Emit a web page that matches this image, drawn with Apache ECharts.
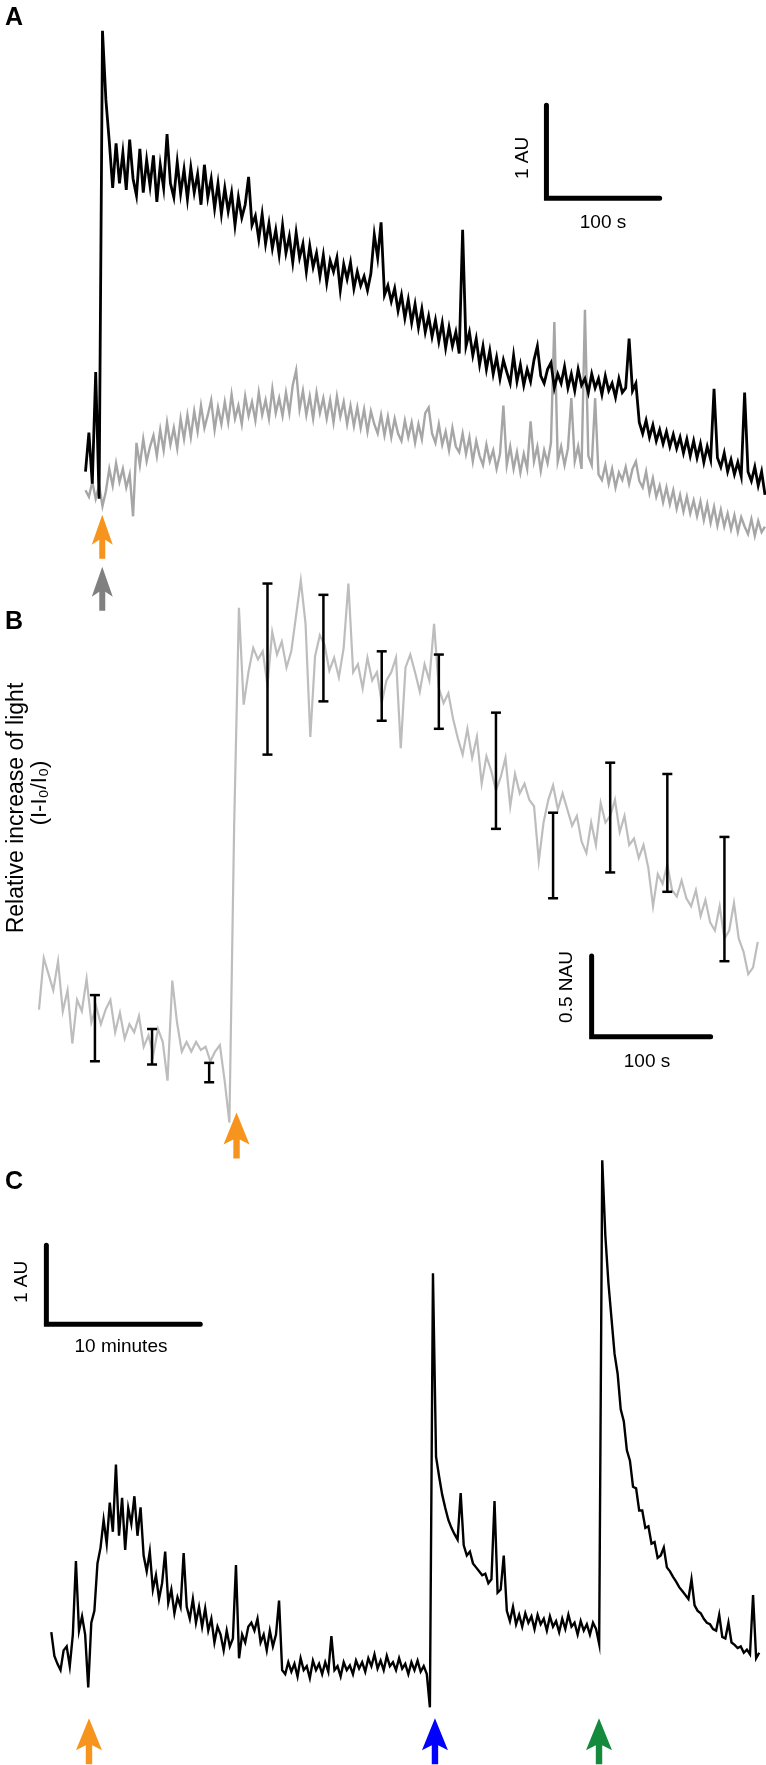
<!DOCTYPE html>
<html>
<head>
<meta charset="utf-8">
<script src="https://cdn.jsdelivr.net/npm/echarts@6/dist/echarts.min.js"></script>
<style>
  html, body { margin: 0; padding: 0; background: #fff; }
  #chart { width: 766px; height: 1765px; }
</style>
</head>
<body>
<div id="chart"></div>
<script>
// ---- panel A: two traces, one sample every 3 s, values in AU ----
const stepA = 3;
const blackA = [
  0.95, 1.37, 0.82, 2.02, 0.66, 5.69, 4.95, 4.5, 4.0, 4.48,
  4.05, 4.38, 3.98, 4.52, 4.1, 3.92, 4.42, 3.95, 4.3, 4.02,
  4.35, 3.85, 4.25, 4.0, 4.58, 4.05, 3.9, 4.28, 3.94, 4.2,
  3.88, 4.22, 3.95, 4.15, 3.82, 4.25, 3.9, 4.1, 3.78, 4.05,
  3.72, 4.0, 3.75, 3.95, 3.6, 3.9, 3.68, 3.82, 4.12, 3.6,
  3.7, 3.45, 3.72, 3.4, 3.62, 3.35, 3.55, 3.28, 3.6, 3.3,
  3.48, 3.2, 3.52, 3.25, 3.4, 3.1, 3.38, 3.15, 3.3, 3.05,
  3.28, 2.98, 3.22, 3.1, 3.25, 2.9, 3.18, 3.02, 3.2, 2.92,
  3.1, 2.95, 3.05, 2.9, 3.08, 3.5, 3.25, 3.63, 2.85, 2.95,
  2.78, 2.92, 2.68, 2.85, 2.6, 2.8, 2.55, 2.75, 2.5, 2.7,
  2.45, 2.62, 2.4, 2.58, 2.35, 2.55, 2.28, 2.5, 2.3, 2.45,
  2.22, 3.55, 2.3, 2.45, 2.2, 2.38, 2.1, 2.3, 2.05, 2.25,
  2.0, 2.18, 1.95, 2.15, 2.02, 1.9, 2.2, 1.92, 2.1, 1.88,
  2.05, 1.92, 2.15, 2.3, 1.98, 1.9, 2.05, 2.12, 1.85, 2.0,
  1.9, 2.08, 1.85, 2.0, 1.82, 2.05, 1.88, 1.95, 1.8, 2.0,
  1.85, 1.95, 1.78, 1.98, 1.82, 1.9, 1.75, 1.95, 1.8, 1.85,
  2.38, 1.82, 1.9, 1.48, 1.36, 1.5, 1.32, 1.45, 1.28, 1.4,
  1.25, 1.38, 1.22, 1.35, 1.2, 1.32, 1.15, 1.3, 1.12, 1.28,
  1.1, 1.25, 1.05, 1.22, 1.08, 1.84, 1.1, 1.0, 1.15, 0.95,
  1.08, 0.92, 1.05, 0.9, 1.8, 0.95, 0.85, 1.0, 0.8, 0.95,
  0.7
];
const greyA = [
  0.75, 0.68, 0.84, 0.66, 0.8, 0.58, 0.74, 0.98, 0.8, 1.04,
  0.84, 0.98, 0.78, 0.92, 0.47, 1.26, 1.02, 1.3, 1.06, 1.22,
  1.34, 1.12, 1.4, 1.18, 1.48, 1.24, 1.42, 1.2, 1.52, 1.3,
  1.56, 1.32, 1.6, 1.38, 1.66, 1.42, 1.56, 1.72, 1.4, 1.64,
  1.46, 1.7, 1.48, 1.78, 1.52, 1.66, 1.46, 1.76, 1.55, 1.7,
  1.5, 1.8, 1.56, 1.72, 1.52, 1.84, 1.58, 1.74, 1.55, 1.8,
  1.58, 1.88, 2.04, 1.62, 1.82, 1.56, 1.76, 1.52, 1.8, 1.58,
  1.74, 1.52, 1.72, 1.48, 1.76, 1.54, 1.7, 1.46, 1.66, 1.44,
  1.64, 1.42, 1.62, 1.38, 1.6, 1.46, 1.36, 1.56, 1.34, 1.54,
  1.32, 1.52, 1.36, 1.28, 1.5, 1.32, 1.48, 1.26, 1.46, 1.3,
  1.58, 1.64, 1.36, 1.26, 1.46, 1.24, 1.38, 1.18, 1.42, 1.22,
  1.16, 1.36, 1.14, 1.32, 1.06, 1.28, 1.12, 1.02, 1.24, 1.06,
  1.18, 0.98, 1.14, 1.66, 1.02, 1.22, 0.98, 1.16, 0.94, 1.14,
  0.98, 1.49, 1.06, 1.22, 0.96, 1.18, 1.04, 1.26, 2.56, 1.06,
  1.22, 1.02, 1.2, 1.74, 1.06, 1.22, 0.98, 2.69, 1.12, 1.02,
  1.74, 0.92, 0.86, 1.02, 0.82, 0.98, 0.78, 0.94, 0.86, 1.0,
  0.82, 0.98, 1.06, 0.85, 0.78, 0.95, 0.72, 0.88, 0.68, 0.8,
  0.62, 0.78, 0.6, 0.75, 0.55, 0.7, 0.52, 0.68, 0.5, 0.64,
  0.47, 0.63, 0.43, 0.6, 0.4, 0.57, 0.37, 0.54, 0.36, 0.5,
  0.33, 0.48, 0.3, 0.46, 0.36, 0.28, 0.44, 0.26, 0.42, 0.3,
  0.36
];
const stimA = [14.8];

// ---- panel B: relative increase of light, one sample every 4 s ----
const stepB = 4;
const traceB = [
  0.56, 0.88, 0.78, 0.68, 0.86, 0.55, 0.68, 0.35, 0.62, 0.55,
  0.75, 0.48, 0.58, 0.47, 0.56, 0.62, 0.42, 0.54, 0.38, 0.47,
  0.42, 0.52, 0.33, 0.4, 0.28, 0.44, 0.36, 0.12, 0.74, 0.48,
  0.3, 0.36, 0.3, 0.36, 0.31, 0.33, 0.24, 0.3, 0.34, 0.12,
  -0.14, 1.7, 3.05, 2.45, 2.65, 2.8, 2.73, 2.78, 2.57, 2.9,
  2.76, 2.84, 2.68, 2.78, 3.0, 3.22, 2.95, 2.25, 2.75, 2.88,
  2.82, 2.66, 2.74, 2.62, 2.8, 3.2, 2.65, 2.7, 2.55, 2.74,
  2.6, 2.65, 2.46, 2.6, 2.65, 2.74, 2.18, 2.68, 2.76, 2.65,
  2.53, 2.7, 2.6, 2.95, 2.55, 2.46, 2.52, 2.36, 2.24, 2.14,
  2.3, 2.12, 2.25, 1.96, 2.13, 2.04, 1.92, 2.0, 2.12, 1.82,
  2.02, 1.9, 1.96, 1.86, 1.82, 1.48, 1.72, 1.86, 1.95, 1.8,
  1.9, 1.8, 1.7, 1.76, 1.6, 1.53, 1.72, 1.58, 1.84, 1.72,
  1.76, 1.86, 1.66, 1.76, 1.58, 1.62, 1.5, 1.58, 1.44, 1.2,
  1.4, 1.34, 1.46, 1.3, 1.26, 1.36, 1.25, 1.2, 1.3, 1.14,
  1.24, 1.1, 1.05, 1.2, 1.0, 1.05, 1.22, 1.0, 0.92, 0.78,
  0.82, 0.98
];
const errTimeB = [47, 95, 143, 192, 239, 288, 336, 384, 432, 480, 528, 576];
const errLowB = [0.24, 0.22, 0.11, 2.14, 2.47, 2.35, 2.3, 1.68, 1.25, 1.41, 1.29, 0.86];
const errHighB = [0.65, 0.44, 0.23, 3.2, 3.13, 2.78, 2.76, 2.4, 1.78, 2.09, 2.02, 1.63];
const stimB = [166];

// ---- panel C: long recording, one sample every 0.2 min ----
const stepC = 0.2;
const traceC = [
  1.08, 0.78, 0.68, 0.6, 0.85, 0.9, 0.65, 1.05, 1.98, 1.1,
  1.28, 1.05, 0.38, 1.2, 1.35, 1.95, 2.15, 2.5, 2.2, 2.72,
  2.35, 3.2, 2.3, 2.78, 2.12, 2.65, 2.45, 2.8, 2.3, 2.66,
  2.05, 1.85, 2.1, 1.62, 1.8, 1.5, 1.7, 2.1, 1.45, 1.62,
  1.32, 1.52, 1.4, 2.08, 1.4, 1.25, 1.5, 1.2, 1.4, 1.15,
  1.38, 1.1, 1.25, 0.95, 1.15, 1.05, 0.85, 1.1, 0.9, 1.0,
  1.93, 0.75, 1.05, 0.95, 1.15, 1.2, 1.1, 1.25, 0.95, 1.05,
  0.85, 1.1, 0.9, 1.05, 1.48, 0.6, 0.55, 0.7, 0.58, 0.68,
  0.52, 0.75, 0.6, 0.65, 0.5, 0.72, 0.6, 0.68, 0.55, 0.7,
  0.58, 1.03, 0.6, 0.65, 0.52, 0.7, 0.6, 0.66, 0.55, 0.72,
  0.62, 0.7, 0.58, 0.75, 0.65, 0.8, 0.62, 0.72, 0.6, 0.78,
  0.65, 0.7, 0.6, 0.75, 0.62, 0.68, 0.55, 0.7, 0.6, 0.72,
  0.58, 0.65, 0.55, 0.13, 5.62, 3.3, 3.05, 2.82, 2.65, 2.5,
  2.4, 2.32, 2.25, 2.84, 2.18, 2.05, 2.1, 1.95, 1.9, 1.85,
  1.8, 1.82, 1.7, 1.75, 2.74, 1.58, 1.62, 2.05, 1.35, 1.22,
  1.4, 1.18, 1.3, 1.15, 1.32, 1.2, 1.28, 1.12, 1.3, 1.18,
  1.25, 1.1, 1.28, 1.15, 1.22, 1.08, 1.25, 1.12, 1.3, 1.15,
  1.2, 1.05, 1.22, 1.1, 1.18, 1.05, 1.2, 1.12, 0.93, 7.05,
  6.1, 5.5, 5.05, 4.6, 4.35, 3.9, 3.75, 3.38, 3.25, 2.92,
  2.9, 2.62, 2.62, 2.4, 2.42, 2.2, 2.22, 2.02, 2.05, 2.15,
  1.9, 1.85, 1.78, 1.72, 1.65, 1.6, 1.55, 1.5, 1.75, 1.42,
  1.35, 1.32, 1.25, 1.2, 1.18, 1.12, 1.1, 1.3, 1.02, 1.0,
  1.2, 0.95, 0.92, 0.88, 0.9, 0.82, 0.86, 0.8, 1.55, 0.75,
  0.82
];
const stimC = [2.45, 24.93, 35.59];

// ---------------------------------------------------------------
const chart = echarts.init(document.getElementById('chart'));

const toXY = (vals, step) => vals.map((v, i) => [+(i * step).toFixed(3), v]);

const arrowSmall = 'path://M10.5,0 L21,30 L13.5,25 L13.5,44 L7.5,44 L7.5,25 L0,30 Z';
const arrowBig = 'path://M13,0 L26,32 L16.2,27 L16.2,46 L9.8,46 L9.8,27 L0,32 Z';
const FONT = '"Liberation Sans", Arial, sans-serif';

function traceSeries(idx, data, color, width, z) {
  return {
    type: 'line', xAxisIndex: idx, yAxisIndex: idx, data: data,
    symbol: 'none', silent: true, z: z,
    lineStyle: { color: color, width: width, join: 'miter' }
  };
}

function scaleBar(idx, x0, y0, dx, dy) {
  return {
    type: 'line', xAxisIndex: idx, yAxisIndex: idx, symbol: 'none', silent: true, z: 5,
    data: [[x0, y0 + dy], [x0, y0], [x0 + dx, y0]],
    lineStyle: { color: '#000', width: 5, cap: 'round', join: 'miter' }
  };
}

function arrowSeries(idx, points, path, size) {
  return {
    type: 'scatter', xAxisIndex: idx, yAxisIndex: idx, silent: true, clip: false, z: 6,
    symbol: path, symbolSize: size,
    data: points.map(p => ({ value: [p[0], p[1]], itemStyle: { color: p[2], opacity: 1 } }))
  };
}

function label(text, x, y, size, rot, bold) {
  return {
    type: 'text', x: x, y: y, rotation: rot || 0,
    style: {
      text: text, fill: '#000',
      font: (bold ? 'bold ' : '') + size + 'px ' + FONT,
      align: 'center', verticalAlign: 'middle',
      textAlign: 'center', textVerticalAlign: 'middle'
    }
  };
}

const option = {
  animation: false,
  backgroundColor: '#fff',
  grid: [
    { left: 85.5, top: 20.6, width: 679.5, height: 604.5 },
    { left: 39, top: 567.4, width: 725.9, height: 613.3 },
    { left: 43.6, top: 1156.3, width: 718.7, height: 611.4 }
  ],
  xAxis: [
    { type: 'value', gridIndex: 0, min: 0, max: 600, show: false },
    { type: 'value', gridIndex: 1, min: 0, max: 610, show: false },
    { type: 'value', gridIndex: 2, min: -0.5, max: 46.2, show: false }
  ],
  yAxis: [
    { type: 'value', gridIndex: 0, min: -0.7, max: 5.8, show: false },
    { type: 'value', gridIndex: 1, min: -0.5, max: 3.3, show: false },
    { type: 'value', gridIndex: 2, min: -0.6, max: 7.1, show: false }
  ],
  series: [
    // A
    traceSeries(0, toXY(greyA, stepA), '#a6a6a6', 2.4, 2),
    traceSeries(0, toXY(blackA, stepA), '#000', 2.8, 3),
    scaleBar(0, 407, 3.89, 100, 1),
    arrowSeries(0, [[stimA[0], 0.25, '#f7941d'], [stimA[0], -0.31, '#808080']], arrowSmall, [21, 44]),
    // B
    traceSeries(1, toXY(traceB, stepB), '#bdbdbd', 2.2, 2),
    {
      type: 'custom', xAxisIndex: 1, yAxisIndex: 1, silent: true, z: 4,
      data: errTimeB.map((t, i) => [t, errLowB[i], errHighB[i]]),
      renderItem: function (params, api) {
        const x = api.value(0);
        const lo = api.coord([x, api.value(1)]);
        const hi = api.coord([x, api.value(2)]);
        const w = 5;
        const st = { stroke: '#000', lineWidth: 2.5 };
        return {
          type: 'group', children: [
            { type: 'line', shape: { x1: lo[0], y1: lo[1], x2: hi[0], y2: hi[1] }, style: st },
            { type: 'line', shape: { x1: hi[0] - w, y1: hi[1], x2: hi[0] + w, y2: hi[1] }, style: st },
            { type: 'line', shape: { x1: lo[0] - w, y1: lo[1], x2: lo[0] + w, y2: lo[1] }, style: st }
          ]
        };
      }
    },
    scaleBar(1, 464.4, 0.392, 100, 0.5),
    arrowSeries(1, [[stimB[0], -0.22, '#f7941d']], arrowBig, [26, 46]),
    // C
    traceSeries(2, toXY(traceC, stepC), '#000', 2.4, 3),
    scaleBar(2, -0.32, 4.975, 10, 1),
    arrowSeries(2, [[stimC[0], -0.3, '#f7941d'], [stimC[1], -0.3, '#0000ff'], [stimC[2], -0.3, '#138a3c']], arrowBig, [26, 46])
  ],
  graphic: [
    label('A', 14, 18, 25, 0, true),
    label('B', 14, 622, 25, 0, true),
    label('C', 14, 1182, 25, 0, true),
    label('1 AU', 523, 158, 19, Math.PI / 2),
    label('100 s', 603, 223, 19),
    label('Relative increase of light', 17, 808, 23, Math.PI / 2),
    label('(I-I\u2080/I\u2080)', 40, 793, 22, Math.PI / 2),
    label('0.5 NAU', 567, 987, 19, Math.PI / 2),
    label('100 s', 647, 1062, 19),
    label('1 AU', 22, 1282, 19, Math.PI / 2),
    label('10 minutes', 121, 1347, 19)
  ]
};

chart.setOption(option);
</script>
</body>
</html>
